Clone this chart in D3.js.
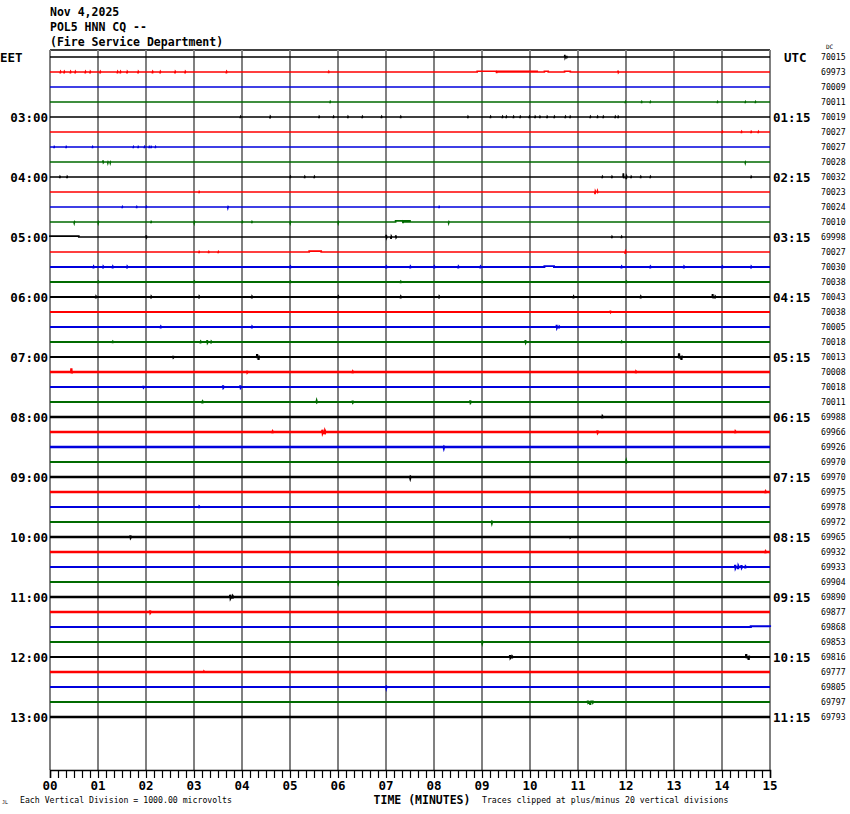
<!DOCTYPE html>
<html><head><meta charset="utf-8">
<script src="https://cdn.jsdelivr.net/npm/d3@7"></script>
<style>
body{margin:0;background:#fff;}
svg{display:block;}
.b{font-family:"DejaVu Sans Mono",monospace;font-weight:bold;}
.s{font-family:"DejaVu Sans Mono",monospace;}
</style></head>
<body><svg id="c" width="850" height="814"></svg>
<script>
// ---------- data ----------
const titleLines = ["Nov 4,2025", "POL5 HNN CQ --", "(Fire Service Department)"];
const leftLabels = ["EET","03:00","04:00","05:00","06:00","07:00","08:00","09:00","10:00","11:00","12:00","13:00"];
const rightLabels = ["UTC","01:15","02:15","03:15","04:15","05:15","06:15","07:15","08:15","09:15","10:15","11:15"];
const dcValues = [70015,69973,70009,70011,70019,70027,70027,70028,70032,70023,70024,70010,69998,70027,70030,70038,70043,70038,70005,70018,70013,70008,70018,70011,69988,69966,69926,69970,69970,69975,69978,69972,69965,69932,69933,69904,69890,69877,69868,69853,69816,69777,69805,69797,69793];
const traceColors = ["#000000","#ff0000","#0000dd","#006a00"];
const minuteTicks = ["00","01","02","03","04","05","06","07","08","09","10","11","12","13","14","15"];
// background noise level per trace (microvolts)
const noiseLevel = [10,15,5,10,20,10,10,10,20,15,15,20,20,20,40,40,40,30,40,35,60,70,60,60,80,75,70,60,75,70,65,60,70,75,65,55,70,75,60,55,65,70,60,55,70];
// events per trace: [minute, amplitude microvolts, duration minutes]
const events = [
 [[10.72,150,0],[10.76,80,0]],
 [[0.21,-90,0],[0.29,-90,0],[0.42,-90,0],[0.52,-90,0],[0.73,-90,0],[0.83,-90,0],[1.04,-90,0],[1.4,-90,0],[1.46,-90,0],[1.6,-90,0],[1.83,-90,0],[2.13,-90,0],[2.29,-90,0],[2.6,-90,0],[2.81,-90,0],[3.67,-90,0],[5.8,-80,0],[8.9,50,1.25],[9.3,-70,0],[10.3,50,0.08],[10.72,50,0.12],[11.83,90,0]],
 [],
 [[5.83,-80,0],[11.98,-70,0],[12.32,-70,0],[12.5,-70,0],[13.9,-70,0],[14.48,-70,0],[14.69,-70,0]],
 [[3.96,-80,0],[4.58,-90,0],[5.6,-80,0],[5.9,-80,0],[6.2,-80,0],[6.5,-80,0],[6.9,-80,0],[7.3,-80,0],[8.7,-80,0],[9.17,-80,0],[9.42,-80,0],[9.5,-80,0],[9.65,-80,0],[9.79,-80,0],[9.98,-80,0],[10.1,-80,0],[10.2,-80,0],[10.35,-80,0],[10.5,-80,0],[10.73,-80,0],[10.83,-80,0],[11.25,-80,0],[11.4,-80,0],[11.52,-80,0],[11.77,-80,0],[11.83,-80,0]],
 [[14.0,-80,0],[14.4,-80,0],[14.6,-80,0],[14.75,-80,0]],
 [[0.08,-70,0],[0.33,-70,0],[0.88,-70,0],[1.73,-70,0],[1.83,-70,0],[1.96,-70,0],[2.06,-70,0],[2.1,-70,0],[2.19,-70,0]],
 [[1.1,100,0],[1.2,-60,0],[1.25,-60,0],[14.48,-60,0]],
 [[0.2,-80,0],[0.35,-80,0],[5.0,-80,0],[5.3,-80,0],[5.5,-80,0],[11.5,-80,0],[11.7,-80,0],[11.94,250,0],[12.0,-150,0],[12.1,-80,0],[12.3,-80,0],[12.5,-80,0],[14.6,-80,0]],
 [[3.1,-70,0],[11.35,-150,0],[11.4,60,0]],
 [[1.5,-70,0],[1.8,-70,0],[2.0,-70,0],[3.7,-60,0],[8.1,-70,0]],
 [[0.5,-60,0],[1.0,-60,0],[2.1,-70,0],[3.0,-60,0],[4.0,-70,0],[4.2,-70,0],[5.0,-60,0],[6.0,-60,0],[7.2,80,0.3],[7.35,-80,0],[8.3,-60,0]],
 [[0,60,0.6],[2.0,100,0],[7.0,150,0],[7.1,-120,0],[7.2,100,0],[11.7,-80,0],[11.9,-80,0]],
 [[3.1,-70,0],[3.3,-70,0],[3.5,-70,0],[5.4,60,0.25],[11.98,-120,0]],
 [[0.9,-90,0],[1.1,-90,0],[1.3,-90,0],[1.6,-90,0],[5.0,-80,0],[7.0,-90,0],[7.5,-90,0],[8.0,-90,0],[8.5,-90,0],[8.96,-80,0],[10.3,60,0.2],[11.9,-80,0],[12.5,-80,0],[13.2,-80,0],[14.0,-80,0],[14.6,-80,0]],
 [[1.0,-70,0],[3.0,-70,0],[5.0,-70,0],[7.3,-70,0],[9.0,-70,0],[12.0,-70,0]],
 [[0.95,-90,0],[2.1,-90,0],[3.1,-90,0],[4.2,-90,0],[6.0,-90,0],[7.3,-90,0],[8.1,-90,0],[10.9,-90,0],[12.3,-90,0],[13.8,200,0],[13.85,-90,0]],
 [[11.67,80,0]],
 [[2.3,-80,0],[4.2,-80,0],[10.55,150,0],[10.6,-80,0]],
 [[1.3,-70,0],[3.13,-80,0],[3.27,120,0],[3.35,-80,0],[9.9,120,0],[11.9,-70,0]],
 [[2.56,70,0],[4.31,200,0],[4.34,-200,0],[13.1,250,0],[13.15,-200,0]],
 [[0.44,250,0],[4.1,80,0],[6.3,-80,0],[12.2,-80,0]],
 [[1.94,70,0],[3.6,100,0],[3.96,100,0]],
 [[3.17,-80,0],[5.55,60,0],[6.3,80,0],[8.75,100,0]],
 [[11.5,-90,0]],
 [[4.63,-80,0],[5.67,150,0],[5.72,-150,0],[11.4,100,0],[14.27,-80,0]],
 [[8.2,-60,0]],
 [[12.0,60,0]],
 [[7.5,-60,0]],
 [[14.9,-90,0]],
 [[3.1,-70,0]],
 [[9.2,-60,0]],
 [[1.67,100,0],[10.83,70,0]],
 [[14.9,-80,0]],
 [[14.27,150,0],[14.33,-150,0],[14.4,120,0],[14.48,-80,0]],
 [[6.0,-60,0]],
 [[3.75,150,0],[3.8,-100,0]],
 [[2.08,100,0]],
 [[14.6,50,0.4]],
 [[9.0,-60,0]],
 [[9.58,120,0],[9.62,-80,0],[14.5,200,0],[14.55,-200,0]],
 [[3.2,-70,0]],
 [[7.0,-60,0]],
 [[11.2,80,0],[11.25,-200,0],[11.3,80,0]],
 []
];

// ---------- drawing ----------
const svg = d3.select("#c");
const x = d3.scaleLinear().domain([0,15]).range([50,770]);
const row = d3.scaleLinear().domain([0,44]).range([57,717]);
const amp = d3.scaleLinear().domain([-1000,1000]).range([15,-15]);

// title
svg.selectAll(".title").data(titleLines).enter().append("text")
  .attr("class","b").attr("x",50).attr("y",(d,i)=>16+i*15)
  .attr("font-size",11.5).text(d=>d);

// top border
svg.append("line").attr("x1",50).attr("x2",770).attr("y1",50).attr("y2",50)
  .attr("stroke","#000").attr("stroke-width",1.5);

// vertical grid
svg.selectAll(".grid").data(d3.range(0,16)).enter().append("line")
  .attr("x1",d=>x(d)).attr("x2",d=>x(d)).attr("y1",50).attr("y2",770)
  .attr("stroke","#808080").attr("stroke-width",2);

// traces
const line = d3.line().x(d=>x(d[0])).y(d=>d[1]).curve(d3.curveLinear);
dcValues.forEach((dc,i)=>{
  const base = row(i);
  const pts = [[0,base]];
  events[i].slice().sort((a,b)=>a[0]-b[0]).forEach(e=>{
    const [t,a,w]=e;
    if(w>0){
      pts.push([t,base]);pts.push([t,base+amp(a)]);pts.push([t+w,base+amp(a)]);pts.push([t+w,base]);
    } else {
      pts.push([t,base]);pts.push([t+0.005,base+amp(a)]);pts.push([t+0.012,base-amp(a)*0.35]);pts.push([t+0.02,base]);
    }
  });
  pts.push([15,base]);
  svg.append("path").attr("d",line(pts)).attr("fill","none")
    .attr("stroke",traceColors[i%4])
    .attr("stroke-width",1.5+noiseLevel[i]/90)
    .attr("stroke-linejoin","miter");
});

// left labels
svg.selectAll(".ll").data(leftLabels).enter().append("text")
  .attr("class","b").attr("font-size",12.5)
  .attr("x",(d,i)=>i===0?0:48).attr("text-anchor",(d,i)=>i===0?"start":"end")
  .attr("y",(d,i)=>row(i*4)+4.5).text(d=>d);

// right labels
svg.selectAll(".rl").data(rightLabels).enter().append("text")
  .attr("class","b").attr("font-size",12.5)
  .attr("x",(d,i)=>i===0?784:773)
  .attr("y",(d,i)=>row(i*4)+4.5).text(d=>d);

// DC values
svg.append("text").attr("class","s").attr("font-size",6).attr("x",826).attr("y",49).text("DC");
svg.selectAll(".dc").data(dcValues).enter().append("text")
  .attr("class","s").attr("font-size",8.2).attr("x",821)
  .attr("y",(d,i)=>row(i)+3).text(d=>d);

// bottom axis
const ax = svg.append("g").attr("transform","translate(0,770)")
  .call(d3.axisBottom(x).tickValues(d3.range(0,91).map(k=>k/6)).tickSize(8).tickFormat(""));
ax.select(".domain").attr("stroke","#000").attr("stroke-width",1.5);
ax.selectAll(".tick line").attr("stroke","#000").attr("stroke-width",1.2);

svg.selectAll(".mt").data(minuteTicks).enter().append("text")
  .attr("class","b").attr("font-size",12.5).attr("text-anchor","middle")
  .attr("x",(d,i)=>x(i)).attr("y",790).text(d=>d);

svg.append("text").attr("class","b").attr("font-size",11.5).attr("text-anchor","middle")
  .attr("x",422).attr("y",804).text("TIME (MINUTES)");
svg.append("text").attr("class","s").attr("font-size",8.2)
  .attr("x",20).attr("y",803).text("Each Vertical Division = 1000.00 microvolts");
svg.append("text").attr("class","s").attr("font-size",8.2)
  .attr("x",482).attr("y",803).text("Traces clipped at plus/minus 20 vertical divisions");
svg.append("text").attr("class","s").attr("font-size",5).attr("x",2).attr("y",804).text("JL");
</script></body></html>
